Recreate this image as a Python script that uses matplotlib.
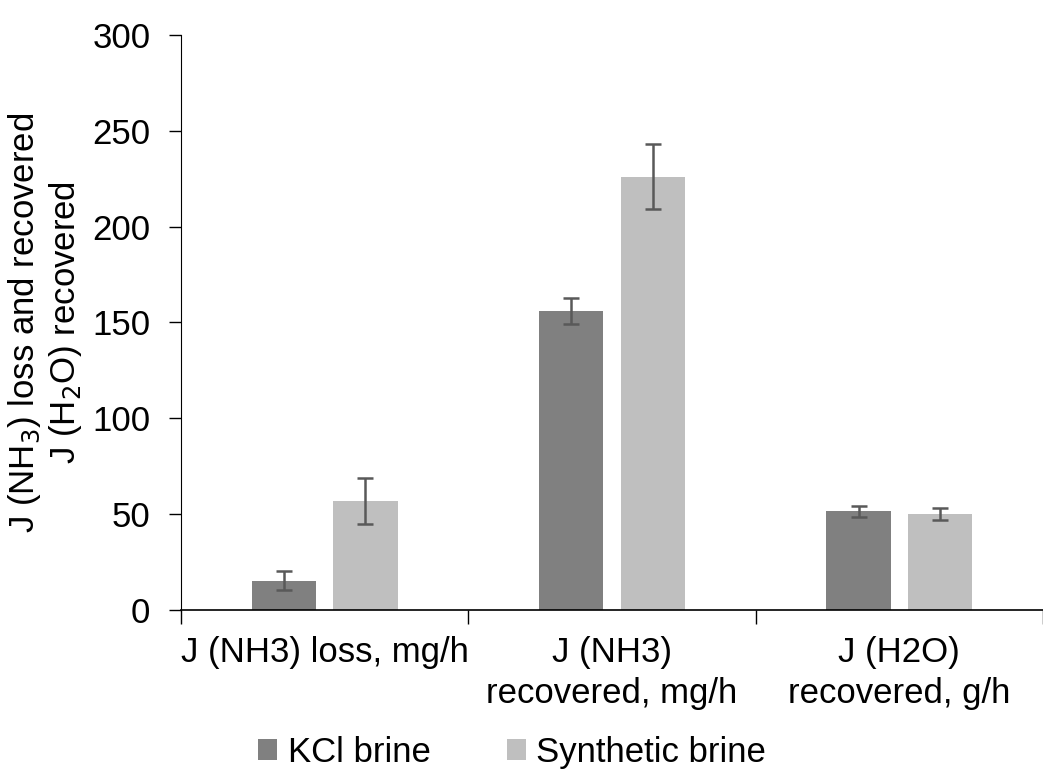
import matplotlib
matplotlib.use("Agg")
import matplotlib.pyplot as plt
import numpy as np
from matplotlib.patches import Patch

plt.rcParams['font.family'] = ['Liberation Sans', 'DejaVu Sans']

categories = ["J (NH3) loss, mg/h", "J (NH3)\nrecovered, mg/h", "J (H2O)\nrecovered, g/h"]
series_names = ["KCl brine", "Synthetic brine"]
kcl_values = [15.2, 156.0, 51.5]
kcl_errors = [5.0, 7.0, 3.0]
synthetic_values = [57.0, 226.0, 50.0]
synthetic_errors = [12.0, 17.0, 3.0]
y_ticks = [0, 50, 100, 150, 200, 250, 300]

colors = ["#808080", "#bfbfbf"]
err_color = "#595959"
fs = 25

fig = plt.figure(figsize=(10.43, 7.69), dpi=100)
ax = fig.add_axes([0.1735, 0.2068, 0.8265, 0.7477])

x = np.arange(len(categories))
width = 0.224
offset = 0.142

ekw = dict(ecolor=err_color, elinewidth=1.8, capsize=6, capthick=1.8)
ax.bar(x - offset, kcl_values, width, color=colors[0], yerr=kcl_errors, error_kw=ekw)
ax.bar(x + offset, synthetic_values, width, color=colors[1], yerr=synthetic_errors, error_kw=ekw)

ax.set_xlim(-0.5, len(categories) - 0.5)
ax.set_ylim(0, 300)
ax.set_yticks(y_ticks)
ax.set_yticklabels([str(v) for v in y_ticks], fontsize=fs)

# category labels centred, tick marks on the category boundaries
ax.set_xticks(np.arange(len(categories) + 1) - 0.5)
ax.set_xticklabels([])
ax.tick_params(axis='x', length=10, width=1, color="#000000", direction='out')
ax.tick_params(axis='y', length=9, width=1, direction='out', pad=13)
for i, lab in enumerate(categories):
    ax.text(i, -0.046, lab, transform=ax.get_xaxis_transform(), ha='center', va='top',
            fontsize=fs, linespacing=1.3)

for s in ['top', 'right']:
    ax.spines[s].set_visible(False)
ax.spines['bottom'].set_linewidth(1.2)

ax.set_ylabel("J (NH$_3$) loss and recovered\nJ (H$_2$O) recovered", fontsize=fs,
              linespacing=1.15)
ax.yaxis.set_label_coords(-0.112, 0.5)

handles = [Patch(facecolor=c, edgecolor='none') for c in colors]
fig.legend(handles, series_names, loc='lower center', bbox_to_anchor=(0.491, -0.04), ncol=2,
           frameon=False, fontsize=fs, handlelength=0.55, handleheight=0.55,
           handletextpad=0.3, columnspacing=2.2)

fig.savefig("out.png", dpi=100)
